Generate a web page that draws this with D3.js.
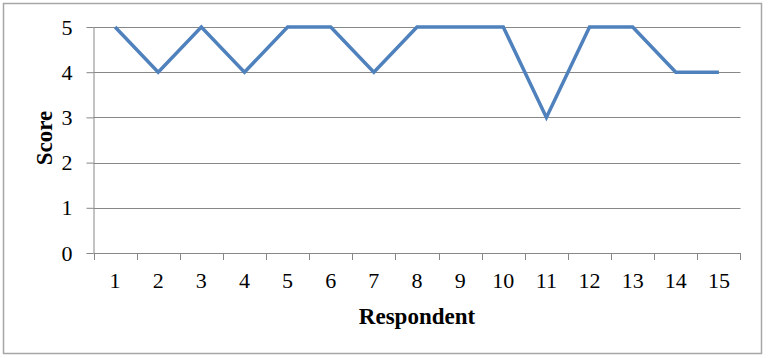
<!DOCTYPE html>
<html><head><meta charset="utf-8">
<script src="https://cdn.jsdelivr.net/npm/d3@7"></script>
<style>html,body{margin:0;padding:0;background:#fff;}</style>
</head><body>
<svg id="c" width="769" height="358"></svg>
<script>
const respondents = ["1","2","3","4","5","6","7","8","9","10","11","12","13","14","15"];
const scores = [5,4,5,4,5,5,4,5,5,5,3,5,5,4,4];
const yTicks = [0,1,2,3,4,5];

const svg = d3.select("#c");
const L = 93.5, R = 740.5, T = 27, B = 253;
const font = "'Liberation Serif','Times New Roman',serif";
const gray = "#878787";

svg.append("rect").attr("x",3.5).attr("y",3.5).attr("width",758).attr("height",350)
  .attr("fill","#fff").attr("stroke","#a6a6a6").attr("stroke-width",1.5);

const x = d3.scaleBand().domain(respondents).range([L,R]);
const y = d3.scaleLinear().domain([0,5]).range([B,T]);

// gridlines
svg.append("g").selectAll("line").data(yTicks.filter(d=>d>0)).join("line")
  .attr("x1",L).attr("x2",R).attr("y1",d=>Math.round(y(d))+0.5).attr("y2",d=>Math.round(y(d))+0.5)
  .attr("stroke",gray).attr("stroke-width",1);

// y axis
const ya = svg.append("g").attr("transform",`translate(${L},0)`)
  .call(d3.axisLeft(y).tickValues(yTicks).tickFormat(d3.format("d")).tickSize(7).tickPadding(14).tickSizeOuter(0));
ya.select(".domain").attr("stroke",gray);
ya.selectAll(".tick line").attr("stroke",gray);
ya.selectAll(".tick text").attr("font-family",font).attr("font-size","22px").attr("fill","#000");

// x axis
const xa = svg.append("g").attr("transform",`translate(0,${B+0.5})`)
  .call(d3.axisBottom(x).tickSize(0).tickPadding(19));
xa.select(".domain").attr("stroke",gray).attr("d",`M${L},0H${R}`);
xa.selectAll(".tick text").attr("font-family",font).attr("font-size","22px").attr("fill","#000");
// band boundary ticks
svg.append("g").selectAll("line").data(respondents.concat(["__end"])).join("line")
  .attr("x1",(d,i)=> i<respondents.length ? Math.round(x(d))+0.5 : R)
  .attr("x2",(d,i)=> i<respondents.length ? Math.round(x(d))+0.5 : R)
  .attr("y1",B).attr("y2",B+7).attr("stroke",gray);

// line
const line = d3.line().x((d,i)=>x(respondents[i])+x.bandwidth()/2).y(d=>y(d));
svg.append("path").datum(scores).attr("d",line).attr("fill","none")
  .attr("stroke","#4F81BD").attr("stroke-width",3.5).attr("stroke-linejoin","miter");

// axis titles
svg.append("text").attr("x",417).attr("y",324).attr("text-anchor","middle")
  .attr("font-family",font).attr("font-weight","bold").attr("font-size","23px").text("Respondent");
svg.append("text").attr("transform",`translate(52,138) rotate(-90)`).attr("text-anchor","middle")
  .attr("font-family",font).attr("font-weight","bold").attr("font-size","23px").text("Score");
</script>
</body></html>
